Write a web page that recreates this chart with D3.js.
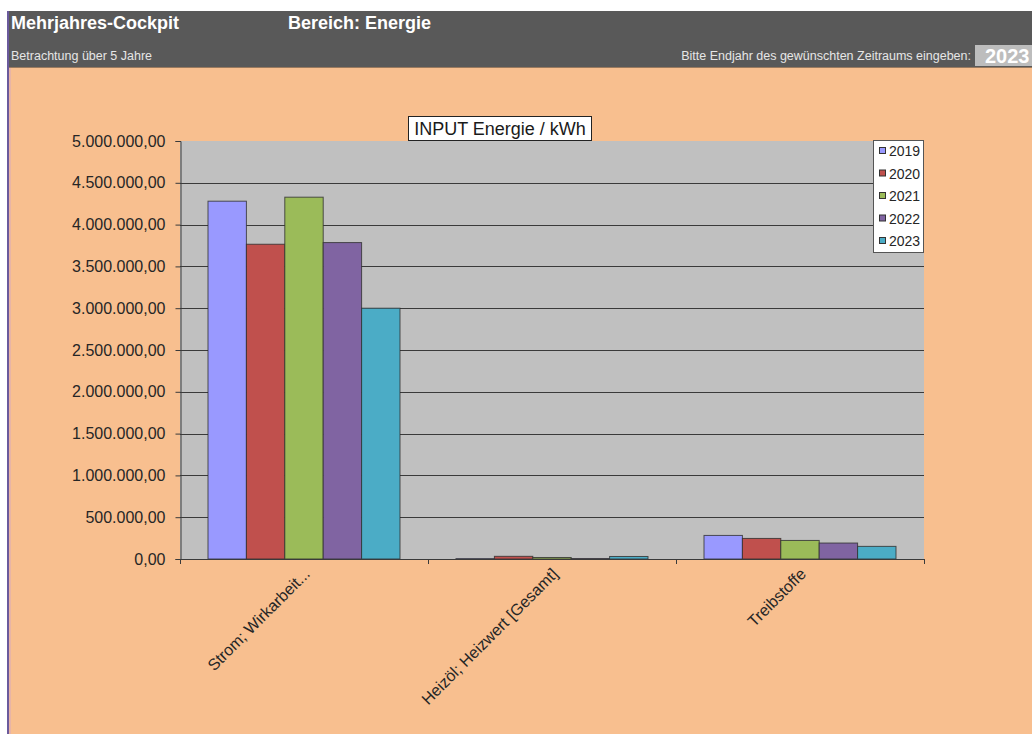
<!DOCTYPE html>
<html>
<head>
<meta charset="utf-8">
<script src="https://cdn.jsdelivr.net/npm/d3@7"></script>
<style>
  html, body { margin: 0; padding: 0; background: #ffffff; }
  svg { display: block; }
  text { font-family: "Liberation Sans", Arial, sans-serif; }
</style>
</head>
<body>
<svg id="chart" width="1032" height="734"></svg>
<script>
// Energy input per category, one array per year (kWh)
const categories = ["Strom; Wirkarbeit...", "Heizöl; Heizwert [Gesamt]", "Treibstoffe"];
const years = ["2019", "2020", "2021", "2022", "2023"];
const values2019 = [4280000, 5000, 282000];
const values2020 = [3765000, 32000, 246000];
const values2021 = [4328000, 18000, 222000];
const values2022 = [3785000, 6000, 191000];
const values2023 = [3000000, 30000, 151000];
const yTicks = [0, 500000, 1000000, 1500000, 2000000, 2500000, 3000000, 3500000, 4000000, 4500000, 5000000];
const colors = ["#9999FF", "#C0504D", "#9BBB59", "#8064A2", "#4BACC6"];

const seriesValues = [values2019, values2020, values2021, values2022, values2023];
const rows = [];
categories.forEach((c, ci) => {
  years.forEach((y, yi) => rows.push({ category: c, year: y, value: seriesValues[yi][ci] }));
});

const de = d3.formatLocale({ decimal: ",", thousands: ".", grouping: [3], currency: ["", " €"] });
const fmt = de.format(",.2f");

const svg = d3.select("#chart");
const W = 1032, H = 734;

// Page background: white margin, dark header strip, orange sheet
svg.append("rect").attr("x", 0).attr("y", 0).attr("width", W).attr("height", H).attr("fill", "#ffffff");
svg.append("rect").attr("x", 8).attr("y", 68).attr("width", W - 8).attr("height", H - 68).attr("fill", "#F8BF8F");
svg.append("rect").attr("x", 8).attr("y", 11).attr("width", W - 8).attr("height", 57).attr("fill", "#595959");
svg.append("line").attr("x1", 8).attr("x2", W).attr("y1", 67.5).attr("y2", 67.5).attr("stroke", "#9a7a5e").attr("stroke-width", 1);
svg.append("rect").attr("x", 7).attr("y", 11).attr("width", 2).attr("height", H - 11).attr("fill", "#6a5a9c");
svg.append("rect").attr("x", 9).attr("y", 68).attr("width", 2).attr("height", H - 68).attr("fill", "#e8b4a6");

// Header texts
svg.append("text").attr("x", 11).attr("y", 29).attr("fill", "#ffffff")
  .attr("font-size", 18).attr("font-weight", "bold").text("Mehrjahres-Cockpit");
svg.append("text").attr("x", 288).attr("y", 29).attr("fill", "#ffffff")
  .attr("font-size", 18).attr("font-weight", "bold").text("Bereich: Energie");
svg.append("text").attr("x", 11).attr("y", 60).attr("fill", "#e6e6e6")
  .attr("font-size", 12.5).text("Betrachtung über 5 Jahre");
svg.append("text").attr("x", 971).attr("y", 60).attr("fill", "#e6e6e6")
  .attr("font-size", 12.5).attr("text-anchor", "end").text("Bitte Endjahr des gewünschten Zeitraums eingeben:");
svg.append("rect").attr("x", 975).attr("y", 45).attr("width", 60).attr("height", 21).attr("fill", "#bdbdbd");
svg.append("text").attr("x", 985).attr("y", 63).attr("fill", "#ffffff")
  .attr("font-size", 20).attr("font-weight", "bold").text(years[years.length - 1]);

// Plot area
const plot = { left: 180, right: 924, top: 141, bottom: 559 };

const x = d3.scaleBand().domain(categories).range([plot.left, plot.right]).padding(0);
const x1 = d3.scaleBand().domain(years).range([28, x.bandwidth() - 28]).padding(0);
const y = d3.scaleLinear().domain([0, 5000000]).range([plot.bottom, plot.top]);

svg.append("rect").attr("x", plot.left).attr("y", plot.top)
  .attr("width", plot.right - plot.left).attr("height", plot.bottom - plot.top).attr("fill", "#C0C0C0");

// Horizontal gridlines
svg.append("g").selectAll("line")
  .data(yTicks.filter(t => t > 0 && t < 5000000))
  .join("line")
  .attr("x1", plot.left).attr("x2", plot.right)
  .attr("y1", d => Math.round(y(d)) + 0.5).attr("y2", d => Math.round(y(d)) + 0.5)
  .attr("stroke", "#3a3a3a").attr("stroke-width", 1);

// Bars
svg.append("g").selectAll("rect")
  .data(rows)
  .join("rect")
  .attr("x", d => x(d.category) + x1(d.year))
  .attr("y", d => y(d.value))
  .attr("width", x1.bandwidth())
  .attr("height", d => y(0) - y(d.value))
  .attr("fill", d => colors[years.indexOf(d.year)])
  .attr("stroke", "#2e2e2e").attr("stroke-width", 1).attr("stroke-opacity", 0.8);

// Y axis
const yAxis = d3.axisLeft(y).tickValues(yTicks).tickFormat(fmt).tickSize(5).tickPadding(10);
const gy = svg.append("g").attr("transform", `translate(${plot.left + 0.5},0)`).call(yAxis);
gy.selectAll("text").attr("font-size", 16).attr("fill", "#262626")
  .attr("font-family", "\"Liberation Sans\", Arial, sans-serif");
gy.selectAll("line, path").attr("stroke", "#3a3a3a");

// X axis: baseline, ticks at category boundaries, rotated labels
const boundaries = [plot.left].concat(categories.map(c => x(c) + x.bandwidth()));
svg.append("line").attr("x1", plot.left).attr("x2", plot.right)
  .attr("y1", plot.bottom + 0.5).attr("y2", plot.bottom + 0.5).attr("stroke", "#3a3a3a");
svg.append("g").selectAll("line").data(boundaries).join("line")
  .attr("x1", d => Math.round(d) + 0.5).attr("x2", d => Math.round(d) + 0.5)
  .attr("y1", plot.bottom).attr("y2", plot.bottom + 5).attr("stroke", "#3a3a3a");

svg.append("g").selectAll("text").data(categories).join("text")
  .attr("transform", d => `translate(${x(d) + x.bandwidth() / 2 + 3},571) rotate(-45)`)
  .attr("text-anchor", "end").attr("dy", "0.35em")
  .attr("font-size", 16).attr("fill", "#262626")
  .text(d => d);

// Chart title
const titleG = svg.append("g");
titleG.append("rect").attr("x", 408.5).attr("y", 116.5).attr("width", 183).attr("height", 24)
  .attr("fill", "#ffffff").attr("stroke", "#222").attr("stroke-width", 1);
titleG.append("text").attr("x", 500).attr("y", 135).attr("text-anchor", "middle")
  .attr("font-size", 18).attr("fill", "#1a1a1a").text("INPUT Energie / kWh");

// Legend
const legend = svg.append("g");
legend.append("rect").attr("x", 873.5).attr("y", 140.5).attr("width", 50).attr("height", 112)
  .attr("fill", "#ffffff").attr("stroke", "#555").attr("stroke-width", 1);
const item = legend.selectAll("g.item").data(years).join("g")
  .attr("class", "item")
  .attr("transform", (d, i) => `translate(879,${151 + i * 22.5})`);
item.append("rect").attr("x", 0.5).attr("y", -3.5).attr("width", 6).attr("height", 6)
  .attr("fill", (d, i) => colors[i]).attr("stroke", "#333").attr("stroke-width", 1);
item.append("text").attr("x", 10).attr("y", 5).attr("font-size", 14).attr("fill", "#262626").text(d => d);
</script>
</body>
</html>
